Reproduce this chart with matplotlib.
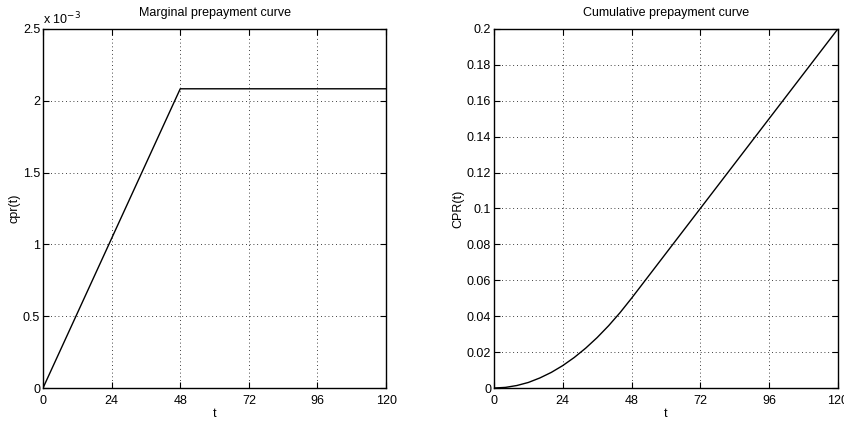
import matplotlib
matplotlib.use("Agg")
import matplotlib.pyplot as plt
from matplotlib.ticker import FuncFormatter

# Data
t_marg = [0, 48, 120]
cpr_marg = [0.0, 0.002083, 0.002083]

t_cum = [0, 4, 8, 12, 16, 20, 24, 28, 32, 36, 40, 44, 48, 120]
cpr_cum = [0.0, 0.00035, 0.0014, 0.0031, 0.0056, 0.0087, 0.0125,
           0.0170, 0.0222, 0.0281, 0.0347, 0.0420, 0.0500, 0.2000]

x_ticks = [0, 24, 48, 72, 96, 120]
y_ticks_left = [0, 0.0005, 0.001, 0.0015, 0.002, 0.0025]
y_ticks_right = [0, 0.02, 0.04, 0.06, 0.08, 0.1, 0.12, 0.14, 0.16, 0.18, 0.2]

plt.rcParams['font.family'] = ['Liberation Sans Narrow', 'Liberation Sans', 'DejaVu Sans']
FS = 9

fig = plt.figure(figsize=(8.45, 4.23), dpi=100)
ax1 = fig.add_axes([0.0509, 0.0827, 0.406, 0.849])
ax2 = fig.add_axes([0.5846, 0.0827, 0.407, 0.849])

def style(ax):
    ax.set_xlim(0, 120)
    ax.set_xticks(x_ticks)
    ax.grid(True, linestyle=(0, (1, 3.5)), color='black', linewidth=0.6)
    ax.tick_params(direction='in', top=True, right=True, length=4,
                   labelsize=FS, width=0.8)
    ax.tick_params(axis='x', pad=5)
    ax.tick_params(axis='y', pad=2)
    for s in ax.spines.values():
        s.set_linewidth(1.0)

ax1.plot(t_marg, cpr_marg, color='black', linewidth=1.0)
style(ax1)
ax1.set_ylim(0, 0.0025)
ax1.set_yticks(y_ticks_left)
ax1.yaxis.set_major_formatter(FuncFormatter(lambda v, p: f"{v*1e3:g}"))
ax1.set_title("Marginal prepayment curve", fontsize=FS, pad=9)
ax1.set_xlabel("t", fontsize=FS, labelpad=1)
ax1.set_ylabel("cpr(t)", fontsize=FS, labelpad=2)
ax1.text(0.0, 1.004, r"x 10$^{-3}$", transform=ax1.transAxes, fontsize=FS,
         ha='left', va='bottom')

ax2.plot(t_cum, cpr_cum, color='black', linewidth=1.0)
style(ax2)
ax2.set_ylim(0, 0.2)
ax2.set_yticks(y_ticks_right)
ax2.yaxis.set_major_formatter(FuncFormatter(lambda v, p: f"{v:g}"))
ax2.set_title("Cumulative prepayment curve", fontsize=FS, pad=9)
ax2.set_xlabel("t", fontsize=FS, labelpad=1)
ax2.set_ylabel("CPR(t)", fontsize=FS, labelpad=2)

fig.savefig("out.png", dpi=100)
